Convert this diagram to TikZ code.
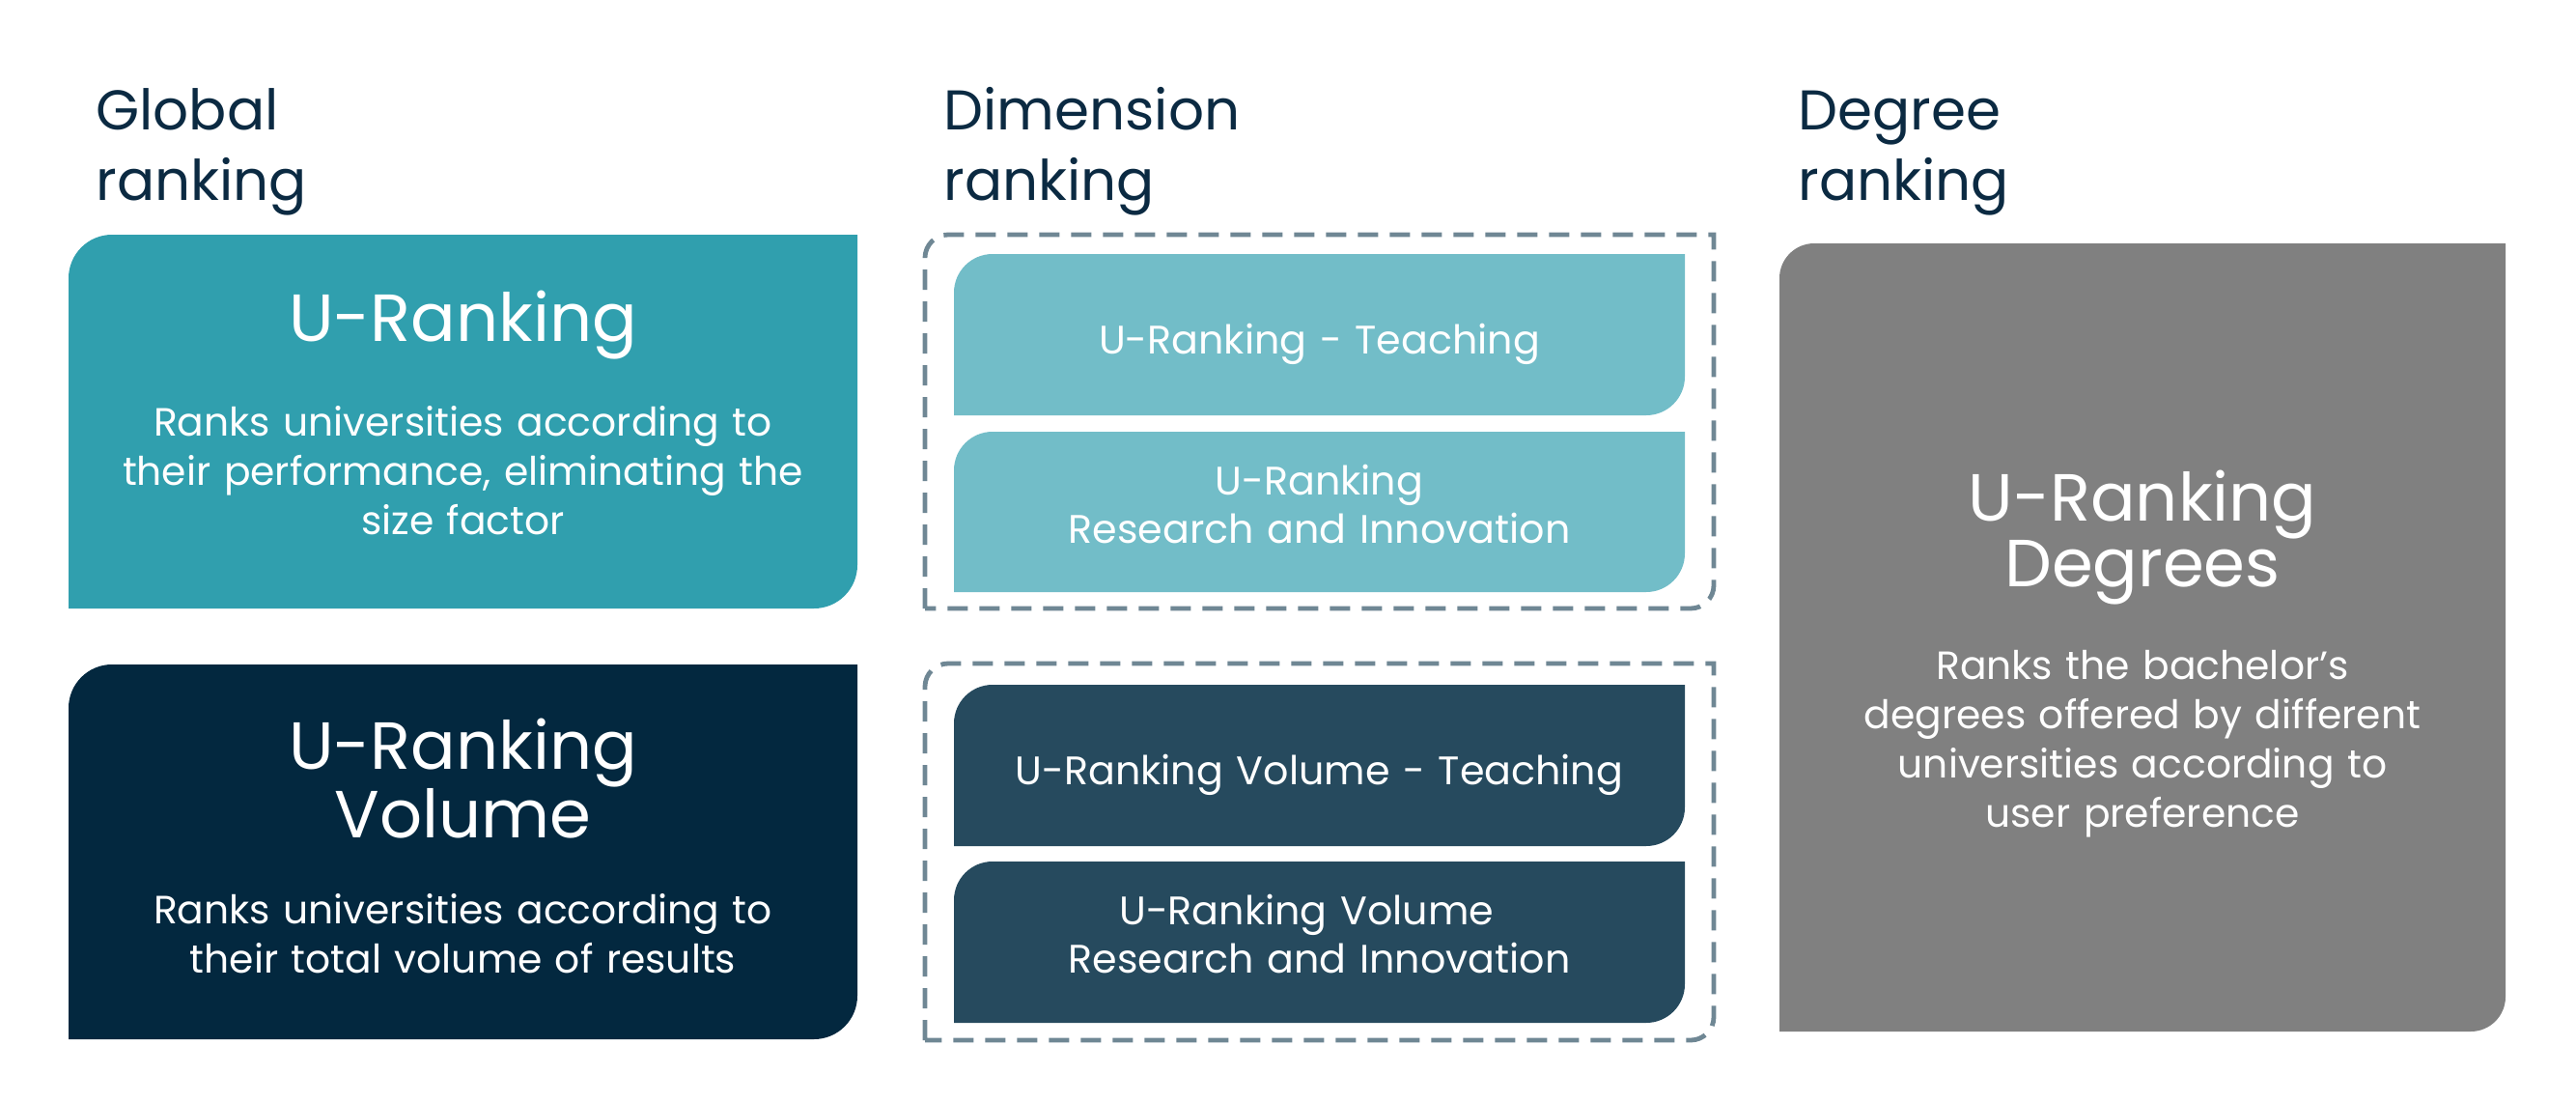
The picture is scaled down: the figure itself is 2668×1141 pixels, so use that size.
\documentclass[tikz,border=0pt]{standalone}
\usepackage{fontspec}
\setmainfont{Poppins}
\definecolor{tealbox}{HTML}{309FAE}
\definecolor{lightteal}{HTML}{72BDC8}
\definecolor{navybox}{HTML}{03283F}
\definecolor{darkinner}{HTML}{264A5E}
\definecolor{graybox}{HTML}{808080}
\definecolor{headtext}{HTML}{0B2A42}
\definecolor{dashcol}{HTML}{6F8794}
% TL and BR rounded box: style, x1, y1, x2, y2, radius (y grows downwards)
\newcommand\tlbrbox[6]{%
  \path[#1] (#2,#5) -- (#2,{#3+#6}) .. controls (#2,{#3+0.4477*#6}) and ({#2+0.4477*#6},#3) .. ({#2+#6},#3)
    -- (#4,#3) -- (#4,{#5-#6}) .. controls (#4,{#5-0.4477*#6}) and ({#4-0.4477*#6},#5) .. ({#4-#6},#5) -- cycle;}
\begin{document}
\begin{tikzpicture}[x=0.5pt,y=-0.5pt,
  heading/.style={anchor=base west,inner sep=0pt,text width=300pt,align=left,text=headtext,
    font=\fontsize{29pt}{36.5pt}\selectfont},
  boxtitle/.style={anchor=base,inner sep=0pt,text width=380pt,align=center,text=white,
    font=\fontsize{34.5pt}{32pt}\selectfont},
  boxdesc/.style={anchor=base,inner sep=0pt,text width=380pt,align=center,text=white,
    font=\fontsize{20.4pt}{25.5pt}\selectfont},
  innertext/.style={anchor=base,inner sep=0pt,text width=370pt,align=center,text=white,
    font=\fontsize{20.6pt}{25pt}\selectfont},
  dashframe/.style={draw=dashcol,line width=2.4pt,dash pattern=on 10.5pt off 6pt},
]
\useasboundingbox (0,0) rectangle (2668,1141);
\fill[white] (0,0) rectangle (2668,1141);

% headings
\node[heading] (hglobal) at (99,134) {Global\\ranking};
\node[heading] (hdim) at (977,134) {Dimension\\ranking};
\node[heading] (hdeg) at (1862,134) {Degree\\ranking};

% global ranking boxes
\tlbrbox{fill=tealbox}{71}{243}{888}{630}{45}
\node[boxtitle] (urank) at (479.5,353) {U-Ranking};
\node[boxdesc] (urankdesc) at (479.5,451) {Ranks universities according to\\their performance, eliminating the\\size factor};

\tlbrbox{fill=navybox}{71}{688}{888}{1076}{45}
\node[boxtitle] (uvol) at (479.5,796) {U-Ranking\\Volume};
\node[boxdesc] (uvoldesc) at (479.5,956) {Ranks universities according to\\their total volume of results};

% dimension ranking
\tlbrbox{dashframe}{958}{243}{1775}{630}{24}
\tlbrbox{fill=lightteal}{988}{263}{1745}{430}{40}
\node[innertext] (uteach) at (1366.5,366) {U-Ranking - Teaching};
\tlbrbox{fill=lightteal}{988}{447}{1745}{613}{40}
\node[innertext] (uresearch) at (1366.5,512) {U-Ranking\\Research and Innovation};

\tlbrbox{dashframe}{958}{687}{1775}{1077}{24}
\tlbrbox{fill=darkinner}{988}{709}{1745}{876}{40}
\node[innertext] (uvteach) at (1366.5,812) {U-Ranking Volume - Teaching};
\tlbrbox{fill=darkinner}{988}{892}{1745}{1059}{40}
\node[innertext] (uvresearch) at (1366.5,957) {U-Ranking Volume\hphantom{n}\\Research and Innovation};

% degree ranking
\tlbrbox{fill=graybox}{1843}{252}{2595}{1068}{36}
\node[boxtitle] (udeg) at (2219,539) {U-Ranking\\Degrees};
\node[boxdesc] (udegdesc) at (2219,703) {Ranks the bachelor’s\\degrees offered by different\\universities according to\\user preference};
\end{tikzpicture}
\end{document}
